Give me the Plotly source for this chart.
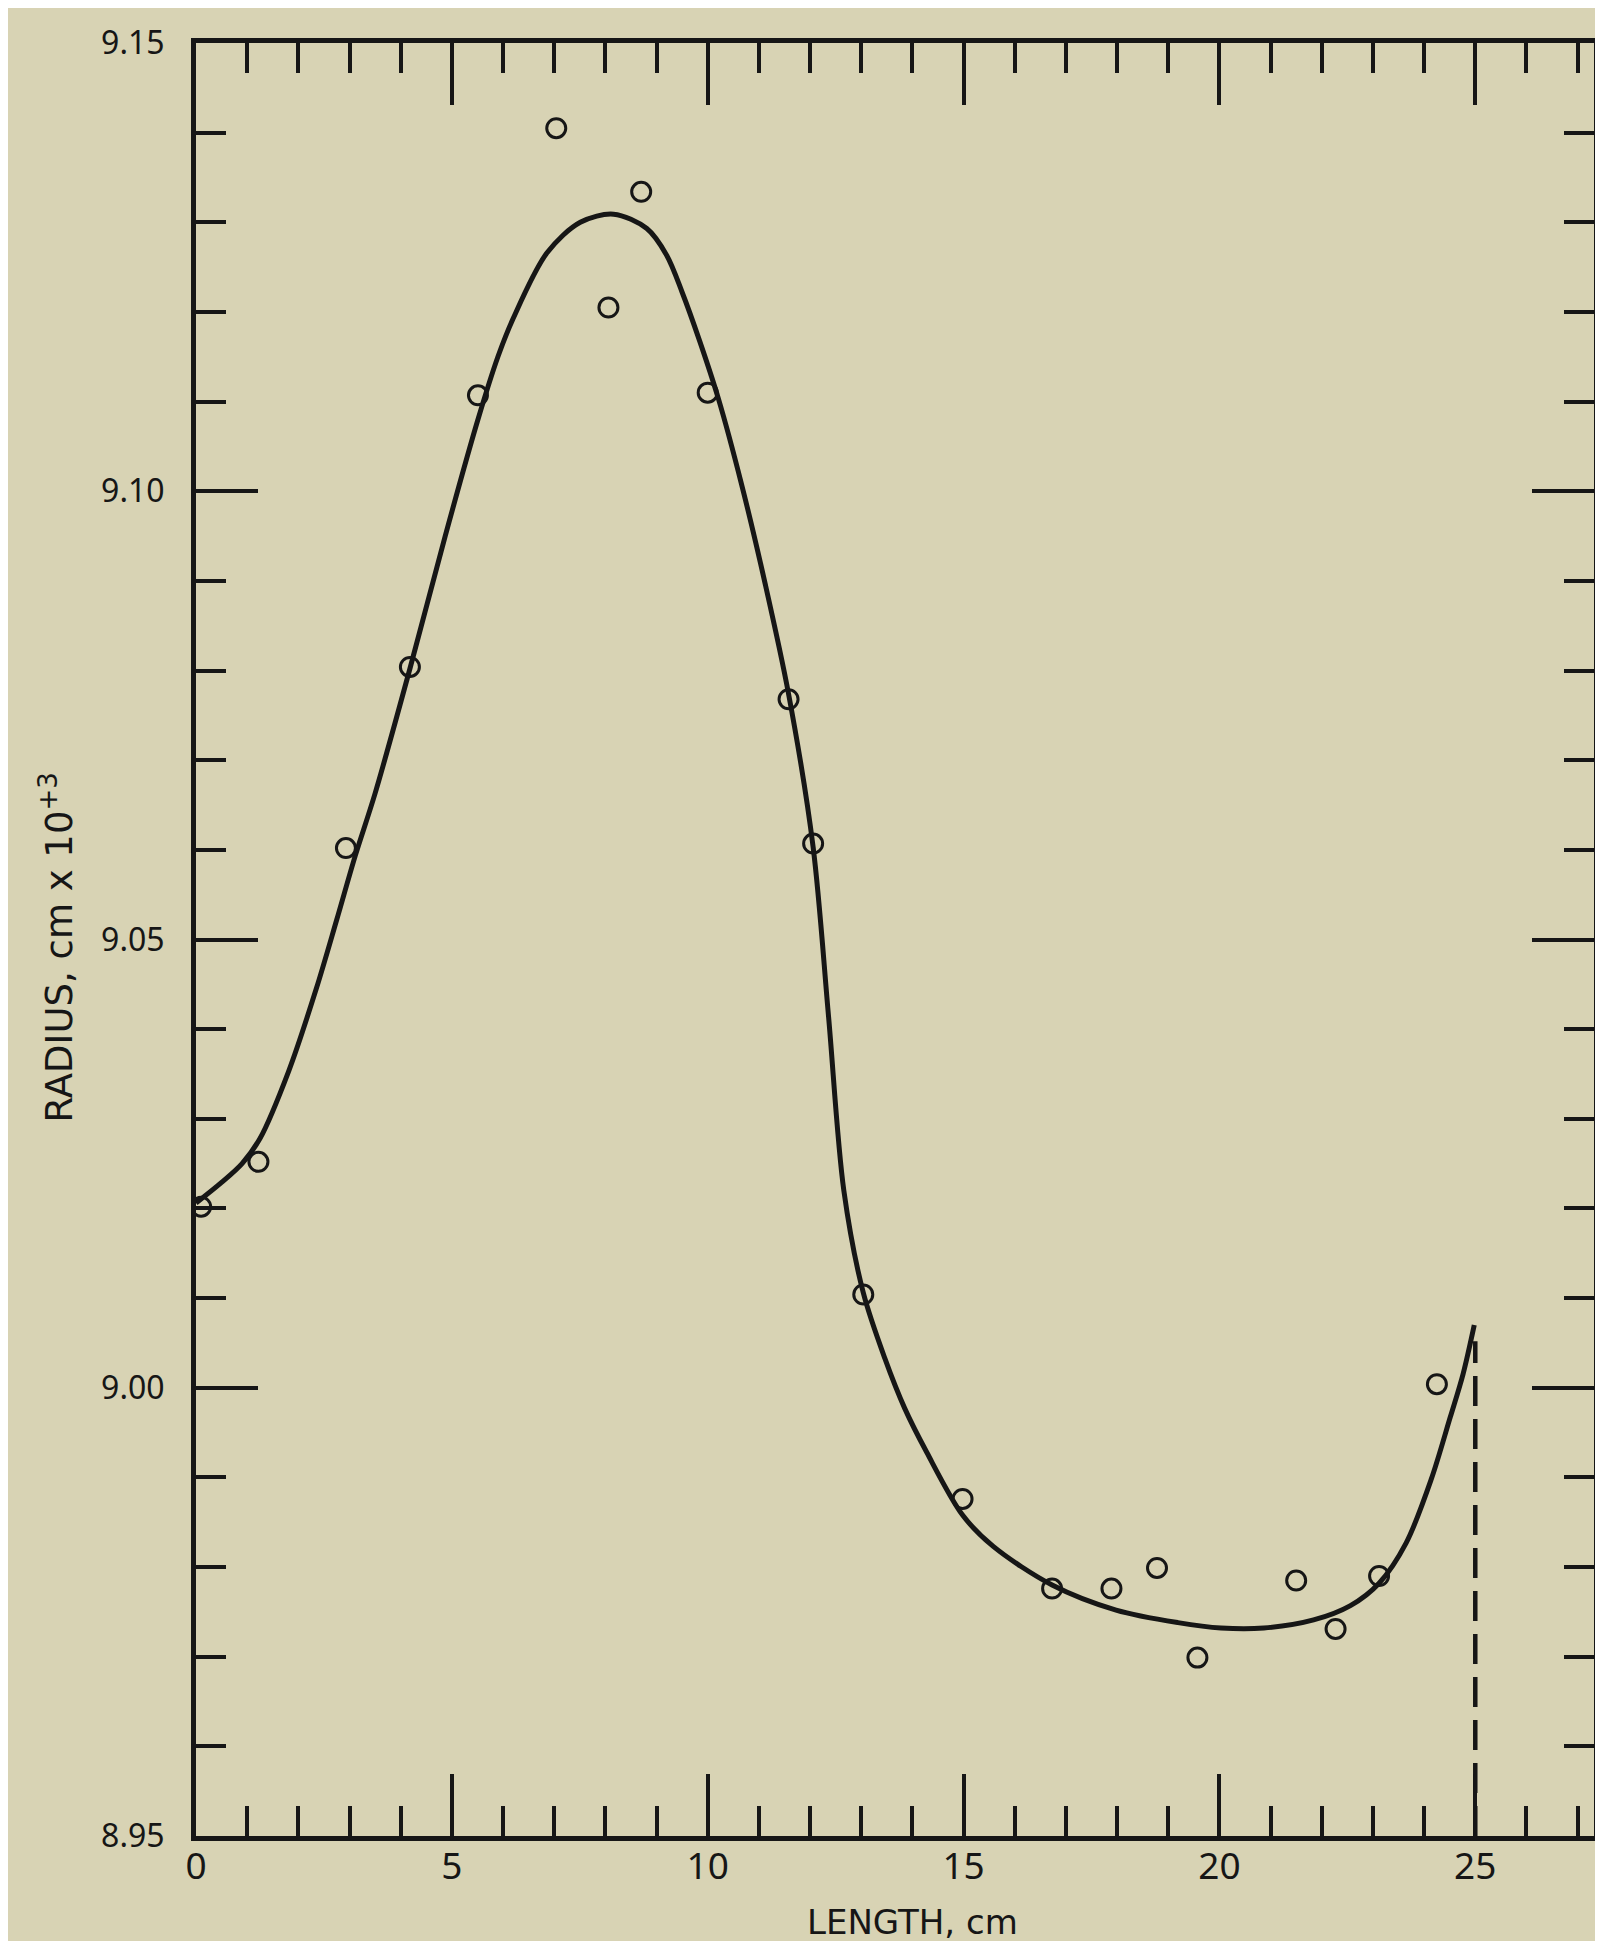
import plotly.graph_objects as go

# Measured points (length in cm, radius in cm x 10^3)
pt_x = [0.10, 1.22, 2.93, 4.18, 5.51, 7.04, 8.06, 8.70, 10.0, 11.58, 12.06, 13.04,
        14.98, 16.73, 17.89, 18.78, 19.57, 21.50, 22.27, 23.12, 24.25]
pt_y = [9.0202, 9.0252, 9.0602, 9.0804, 9.1107, 9.1405, 9.1205, 9.1334, 9.1110, 9.0768,
        9.0607, 9.0104, 8.9876, 8.9776, 8.9776, 8.9799, 8.9699, 8.9785, 8.9731, 8.9790, 9.0004]

# Smooth fitted curve
curve_x = [0.0, 0.50, 0.90, 1.25, 1.81, 2.35, 2.75, 3.11, 3.50, 4.18, 4.87, 5.51, 5.90, 6.20,
           6.86, 7.51, 8.16, 8.81, 9.20, 9.50, 9.84, 10.21, 10.66, 11.13, 11.58, 12.06,
           12.36, 12.66, 13.04, 13.46, 13.85, 14.28, 14.98, 15.58, 16.73, 17.98, 19.19,
           20.03, 20.87, 21.84, 22.56, 23.12, 23.65, 24.14, 24.51, 24.76, 24.98]
curve_y = [9.0206, 9.0229, 9.0250, 9.0278, 9.0353, 9.0445, 9.0522, 9.0593, 9.0663, 9.0802,
           9.0950, 9.1080, 9.1150, 9.1193, 9.1266, 9.1300, 9.1309, 9.1293, 9.1263, 9.1222,
           9.1168, 9.1103, 9.1008, 9.0895, 9.0774, 9.0603, 9.0415, 9.0220, 9.0106, 9.0033,
           8.9977, 8.9928, 8.9858, 8.9823, 8.9780, 8.9752, 8.9738, 8.9732, 8.9732, 8.9741,
           8.9757, 8.9782, 8.9827, 8.9898, 8.9967, 9.0015, 9.0070]

# Dashed marker at the end of the length
dash_x = [25, 25]
dash_y = [8.95, 9.0052]

x_ticks = [0, 5, 10, 15, 20, 25]
y_ticks = [8.95, 9.00, 9.05, 9.10, 9.15]
y_tick_labels = ["8.95", "9.00", "9.05", "9.10", "9.15"]

INK = "#161616"
PAPER = "#d8d3b4"
FONT = "Noto Sans"
TFONT = "DejaVu Sans"

L, R, T, B = 188, 12, 29, 113
PW, PH = 1603 - L - R, 1941 - T - B

fig = go.Figure()
fig.add_trace(go.Scatter(x=dash_x, y=dash_y, mode="lines",
                         line=dict(color=INK, width=4.5, dash="30px,13px"),
                         showlegend=False, hoverinfo="skip"))
fig.add_trace(go.Scatter(x=curve_x, y=curve_y, mode="lines",
                         line=dict(color=INK, width=5, shape="spline", smoothing=0.9),
                         showlegend=False))
fig.add_trace(go.Scatter(x=pt_x, y=pt_y, mode="markers",
                         marker=dict(symbol="circle-open", size=19, color=INK,
                                     line=dict(width=3, color=INK)),
                         showlegend=False))

fig.update_layout(
    width=1603, height=1941,
    margin=dict(l=L, r=R, t=T, b=B),
    paper_bgcolor=PAPER, plot_bgcolor=PAPER,
    font=dict(family=FONT, color=INK),
    showlegend=False,
)
fig.update_xaxes(
    range=[0, 27.32], showgrid=False, zeroline=False,
    showline=True, linewidth=5, linecolor=INK, mirror="ticks",
    ticks="inside", ticklen=62, tickwidth=4, tickcolor=INK,
    tickvals=x_ticks, ticktext=[str(v) for v in x_ticks],
    tickfont=dict(size=37, family=FONT, color=INK),
    ticklabelstandoff=-6,
    minor=dict(ticks="inside", ticklen=30, tickwidth=4, tickcolor=INK, dtick=1, tick0=0,
               showgrid=False),
)
fig.update_yaxes(
    range=[8.95, 9.15], showgrid=False, zeroline=False,
    showline=True, linewidth=5, linecolor=INK, mirror="ticks",
    ticks="inside", ticklen=62, tickwidth=4, tickcolor=INK,
    tickvals=y_ticks, ticktext=y_tick_labels,
    tickfont=dict(size=32, family=FONT, color=INK),
    ticklabelstandoff=20,
    minor=dict(ticks="inside", ticklen=30, tickwidth=4, tickcolor=INK, dtick=0.01, tick0=8.95,
               showgrid=False),
)

fig.add_annotation(text="LENGTH, cm", xref="paper", yref="paper",
                   x=(907 - L) / PW, y=-(1914 - (1941 - B)) / PH,
                   xanchor="center", yanchor="middle", showarrow=False, borderpad=0,
                   font=dict(size=34, family=TFONT, color=INK))
fig.add_annotation(text="RADIUS, cm x 10<sup>+3</sup>", xref="paper", yref="paper",
                   x=-(L - 49) / PW, y=((1941 - B) - 936) / PH, textangle=-90,
                   xanchor="center", yanchor="middle", showarrow=False, borderpad=0,
                   font=dict(size=37, family=TFONT, color=INK))

fig.write_html("out.html")
